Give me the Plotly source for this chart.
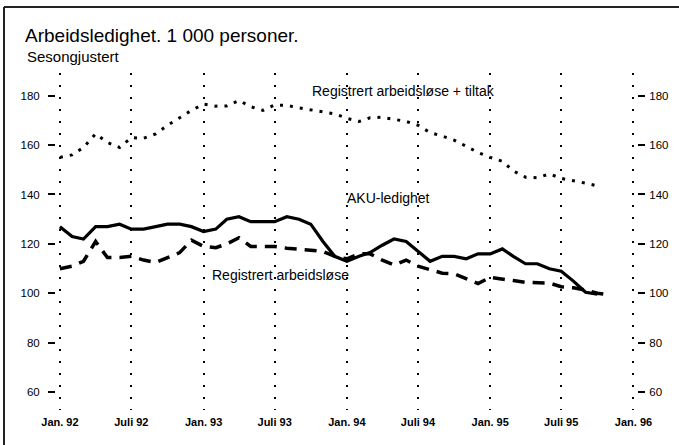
import pandas as pd
import plotly.graph_objects as go

# ---- data (monthly, Jan 1992 onward), 1 000 persons, seasonally adjusted ----
start_month = "1992-01-01"

aku = [127, 123, 122, 127, 127, 128, 126, 126, 127, 128, 128, 127,
       125, 126, 130, 131, 129, 129, 129, 131, 130, 128, 121, 115,
       113, 115, 116.5, 119.5, 122, 121, 117, 113, 115, 115, 114, 116,
       116, 118, 115, 112, 112, 110, 109, 105, 100.5, 99.7]

reg = [110, 111, 113, 121, 114.5, 114.5, 115, 113.5, 112.5, 114.5, 116.5, 121.5,
       119, 118.5, 120, 122.5, 119, 119, 119, 118.3, 118, 117.5, 117, 115,
       114, 116, 116, 113.5, 111.5, 113.5, 111, 109.5, 108.2, 108, 106, 104,
       106.5, 106, 105.2, 104.5, 104.4, 104.2, 102.7, 102.3, 101.4, 100.1, 99.4]

reg_tiltak = [155, 156, 159, 164.5, 161, 159, 163, 162.7, 164.5, 168, 171, 174,
              176.5, 175.7, 175.8, 178, 175.5, 174, 176.2, 176, 175, 174.3, 173.5, 172.6,
              170.8, 169.5, 171, 171.2, 170.4, 169.5, 168, 165, 163.6, 162, 159.5, 157,
              155, 153.4, 149.5, 147, 146.8, 148.3, 146.5, 145.6, 144.6, 143.5]

tick_dates = ["1992-01-01", "1992-07-01", "1993-01-01", "1993-07-01", "1994-01-01",
              "1994-07-01", "1995-01-01", "1995-07-01", "1996-01-01"]
tick_text = ["Jan. 92", "Juli 92", "Jan. 93", "Juli 93", "Jan. 94",
             "Juli 94", "Jan. 95", "Juli 95", "Jan. 96"]
y_ticks = [60, 80, 100, 120, 140, 160, 180]

title = "Arbeidsledighet. 1 000 personer."
subtitle = "Sesongjustert"
label_tiltak = "Registrert arbeidsløse + tiltak"
label_aku = "AKU-ledighet"
label_reg = "Registrert arbeidsløse"


def months(n):
    return pd.date_range(start_month, periods=n, freq="MS")


FONT = "Liberation Sans, Arial, Helvetica, sans-serif"

fig = go.Figure()
fig.add_trace(go.Scatter(x=months(len(aku)), y=aku, mode="lines",
                         line=dict(color="black", width=3.2), showlegend=False))
fig.add_trace(go.Scatter(x=months(len(reg)), y=reg, mode="lines",
                         line=dict(color="black", width=3.5, dash="12px,8px"),
                         showlegend=False))
fig.add_trace(go.Scatter(x=months(len(reg_tiltak)), y=reg_tiltak, mode="lines",
                         line=dict(color="black", width=3, dash="3px,7px"),
                         showlegend=False, yaxis="y2"))

yrange = [52.9, 189.1]
xrange = ["1991-12-22", "1996-01-10"]

# plot area in pixels: x 56..637, y 73..410
L, R, T, B = 56, 637, 73, 410
PW, PH = R - L, B - T


def px(xp):
    return (xp - L) / PW


def py(yp):
    return (B - yp) / PH


fig.update_layout(
    width=679, height=445,
    margin=dict(l=L, r=679 - R, t=T, b=445 - B),
    paper_bgcolor="white", plot_bgcolor="white",
    font=dict(family=FONT, color="black", size=11),
    xaxis=dict(range=xrange, tickvals=tick_dates, ticktext=tick_text,
               showgrid=True, gridcolor="black", gridwidth=2, griddash="2px,10px",
               zeroline=False, showline=False, ticks="", ticklabelstandoff=4,
               tickfont=dict(family=FONT, size=11, weight="bold")),
    yaxis=dict(range=yrange, tickvals=y_ticks, showgrid=False, zeroline=False,
               showline=False, ticks="outside", ticklen=7, tickwidth=2,
               tickcolor="black", ticklabelstandoff=6,
               tickfont=dict(family=FONT, size=11.5)),
    yaxis2=dict(range=yrange, tickvals=y_ticks, overlaying="y", side="right",
                showgrid=False, zeroline=False, showline=False, ticks="outside",
                ticklen=7, tickwidth=2, tickcolor="black", ticklabelstandoff=2,
                tickfont=dict(family=FONT, size=11.5)),
    title=dict(text=title, x=25 / 679, xanchor="left", xref="container",
               y=1 - 29 / 445, yanchor="top", yref="container",
               font=dict(family=FONT, size=19, color="black"),
               pad=dict(l=0, t=0, b=0, r=0)),
)

ann_font = dict(family=FONT, size=14, color="black")
fig.add_annotation(x="1993-09-29", y=181.8, xref="x", yref="y", text=label_tiltak,
                   showarrow=False, xanchor="left", yanchor="middle", font=ann_font)
fig.add_annotation(x="1993-12-27", y=138.6, xref="x", yref="y", text=label_aku,
                   showarrow=False, xanchor="left", yanchor="middle", font=ann_font)
fig.add_annotation(x="1993-01-17", y=107.5, xref="x", yref="y", text=label_reg,
                   showarrow=False, xanchor="left", yanchor="middle", font=ann_font)

# subtitle
fig.add_annotation(x=px(25), y=py(57), xref="paper", yref="paper",
                   text=subtitle, showarrow=False, xanchor="left", yanchor="middle",
                   font=dict(family=FONT, size=15, color="black"))

# frame: top and left lines
fig.add_shape(type="line", xref="paper", yref="paper",
              x0=px(4), x1=px(679), y0=py(7), y1=py(7),
              line=dict(color="#222", width=2))
fig.add_shape(type="line", xref="paper", yref="paper",
              x0=px(4), x1=px(4), y0=py(7), y1=py(445),
              line=dict(color="#222", width=2))

fig.write_html("out.html",
               config={"displayModeBar": False},
               post_script="document.body.style.margin='0';"
                           "document.body.style.overflow='hidden';")
